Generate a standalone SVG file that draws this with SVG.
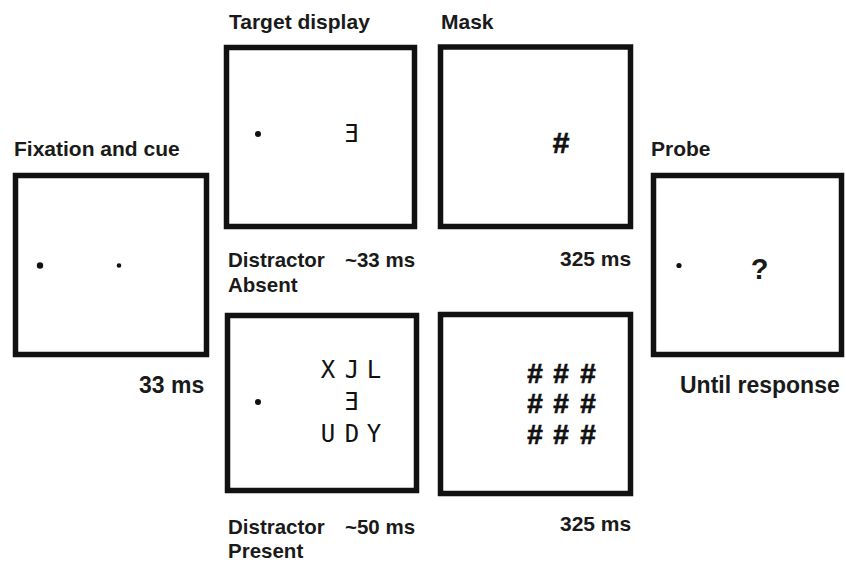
<svg xmlns="http://www.w3.org/2000/svg" width="846" height="562" viewBox="0 0 846 562">
<style>
.box{fill:#fff;stroke:#111;stroke-width:5.5}
.t{font-family:"Liberation Sans",Arial,sans-serif;font-weight:bold;fill:#1a1a1a}
.title{font-size:21px}
.lab{font-size:20.5px}
.big{font-size:23px}
.stim{font-family:"DejaVu Sans Mono","Liberation Mono",monospace;font-size:24px;fill:#111;text-anchor:middle}
.hash{font-family:"Liberation Sans",Arial,sans-serif;font-weight:bold;font-size:28px;fill:#111;stroke:#111;stroke-width:0.7;text-anchor:middle}
.dot{fill:#111}
</style>
<rect width="846" height="562" fill="#fff"/>
<g id="fixation">
<text class="t title" x="14" y="156">Fixation and cue</text>
<rect class="box" x="15.5" y="175.5" width="191" height="179"/>
<circle class="dot" cx="40" cy="265.5" r="3.2"/>
<circle class="dot" cx="119" cy="265.5" r="2.3"/>
<text class="t big" x="139" y="393">33 ms</text>
</g>
<g id="target-absent">
<text class="t title" x="229" y="29">Target display</text>
<rect class="box" x="226.5" y="47.5" width="188" height="179"/>
<circle class="dot" cx="258" cy="134" r="3"/>
<text class="stim" x="351" y="142">Ǝ</text>
<text class="t lab" x="228" y="267">Distractor</text>
<text class="t lab" x="345" y="267">~33 ms</text>
<text class="t lab" x="228" y="292">Absent</text>
</g>
<g id="target-present">
<rect class="box" x="227.5" y="315.5" width="189" height="175"/>
<circle class="dot" cx="258" cy="402" r="3"/>
<text class="stim" x="328" y="378">X</text>
<text class="stim" x="352" y="378">J</text>
<text class="stim" x="374" y="378">L</text>
<text class="stim" x="351" y="410">Ǝ</text>
<text class="stim" x="328" y="442">U</text>
<text class="stim" x="352" y="442">D</text>
<text class="stim" x="374" y="442">Y</text>
<text class="t lab" x="228" y="534">Distractor</text>
<text class="t lab" x="345" y="534">~50 ms</text>
<text class="t lab" x="228" y="558">Present</text>
</g>
<g id="mask-single">
<text class="t title" x="441" y="29">Mask</text>
<rect class="box" x="440.5" y="47" width="190" height="179.5"/>
<text class="hash" x="561" y="153" style="font-size:30px">#</text>
<text class="t title" x="560" y="266">325 ms</text>
</g>
<g id="mask-grid">
<rect class="box" x="440.5" y="314.5" width="190" height="179"/>
<text class="hash" x="535" y="383">#</text>
<text class="hash" x="561" y="383">#</text>
<text class="hash" x="588" y="383">#</text>
<text class="hash" x="535" y="413">#</text>
<text class="hash" x="561" y="413">#</text>
<text class="hash" x="588" y="413">#</text>
<text class="hash" x="535" y="444">#</text>
<text class="hash" x="561" y="444">#</text>
<text class="hash" x="588" y="444">#</text>
<text class="t title" x="560" y="531">325 ms</text>
</g>
<g id="probe">
<text class="t title" x="651" y="156">Probe</text>
<rect class="box" x="653.5" y="175.5" width="188" height="179"/>
<circle class="dot" cx="679" cy="265.5" r="2.6"/>
<text class="t" x="759.5" y="279" style="font-size:29px;text-anchor:middle">?</text>
<text class="t big" x="680" y="393">Until response</text>
</g>
<g id="connectors"></g>
</svg>
